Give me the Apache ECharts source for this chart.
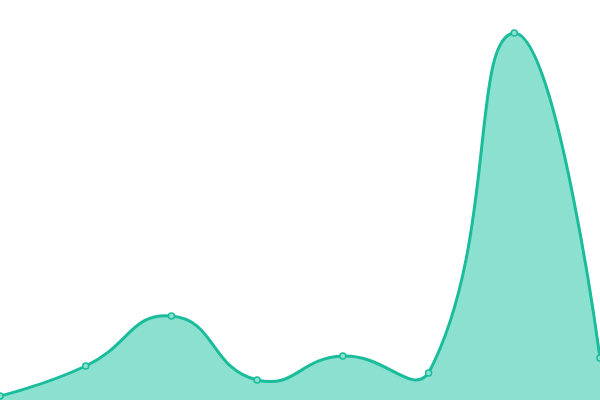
<!DOCTYPE html>
<html>
<head>
<meta charset="utf-8">
<script src="https://cdn.jsdelivr.net/npm/echarts@6/dist/echarts.min.js"></script>
<style>
  html, body { margin: 0; padding: 0; background: #fff; }
  #chart { width: 600px; height: 400px; }
</style>
</head>
<body>
<div id="chart"></div>
<script>
const categories = ['1', '2', '3', '4', '5', '6', '7', '8'];
const values = [4, 34, 84, 20, 44, 27, 367, 42];

const lineColor = '#1abc9c';
const areaColor = '#8be0cf';
const smooth = 0.5;

// bezier control points, clamped only to the bounding box of all points
function controlPoints(pts) {
  const minX = Math.min(...pts.map(p => p[0])), maxX = Math.max(...pts.map(p => p[0]));
  const minY = Math.min(...pts.map(p => p[1])), maxY = Math.max(...pts.map(p => p[1]));
  const clamp = c => [Math.min(maxX, Math.max(minX, c[0])), Math.min(maxY, Math.max(minY, c[1]))];
  const cps = [];
  for (let i = 0; i < pts.length; i++) {
    const p = pts[i];
    if (i === 0 || i === pts.length - 1) {
      cps.push({ back: p, fwd: p });
      continue;
    }
    const prev = pts[i - 1], next = pts[i + 1];
    const vx = (next[0] - prev[0]) * smooth, vy = (next[1] - prev[1]) * smooth;
    const d0 = Math.hypot(p[0] - prev[0], p[1] - prev[1]);
    const d1 = Math.hypot(next[0] - p[0], next[1] - p[1]);
    const sum = d0 + d1 || 1;
    cps.push({
      back: clamp([p[0] - vx * d0 / sum, p[1] - vy * d0 / sum]),
      fwd: clamp([p[0] + vx * d1 / sum, p[1] + vy * d1 / sum])
    });
  }
  return cps;
}

function curvePath(pts) {
  const cps = controlPoints(pts);
  let d = 'M' + pts[0][0] + ' ' + pts[0][1];
  for (let i = 1; i < pts.length; i++) {
    const a = cps[i - 1].fwd, b = cps[i].back, p = pts[i];
    d += ' C' + a[0] + ' ' + a[1] + ' ' + b[0] + ' ' + b[1] + ' ' + p[0] + ' ' + p[1];
  }
  return d;
}

const chart = echarts.init(document.getElementById('chart'));
chart.setOption({
  animation: false,
  grid: { left: 0, right: 0, top: 0, bottom: 0 },
  xAxis: { type: 'category', data: categories, boundaryGap: false, show: false },
  yAxis: { type: 'value', min: 0, max: 400, show: false },
  series: [{
    type: 'custom',
    data: values.map((v, i) => [i, v]),
    encode: { x: 0, y: 1 },
    renderItem: function (params, api) {
      if (params.dataIndex !== 0) return null;
      const pts = values.map((v, i) => api.coord([i, v]));
      const base = api.coord([0, 0])[1];
      const line = curvePath(pts);
      const area = line + ' L' + pts[pts.length - 1][0] + ' ' + base + ' L' + pts[0][0] + ' ' + base + ' Z';
      const children = [
        { type: 'path', shape: { pathData: area }, style: { fill: areaColor } },
        { type: 'path', shape: { pathData: line }, style: { fill: null, stroke: lineColor, lineWidth: 3 } }
      ];
      pts.forEach(p => {
        children.push({
          type: 'circle',
          shape: { cx: p[0], cy: p[1], r: 3 },
          style: { fill: areaColor, stroke: lineColor, lineWidth: 1.5 }
        });
      });
      return { type: 'group', children: children };
    }
  }]
});
</script>
</body>
</html>
